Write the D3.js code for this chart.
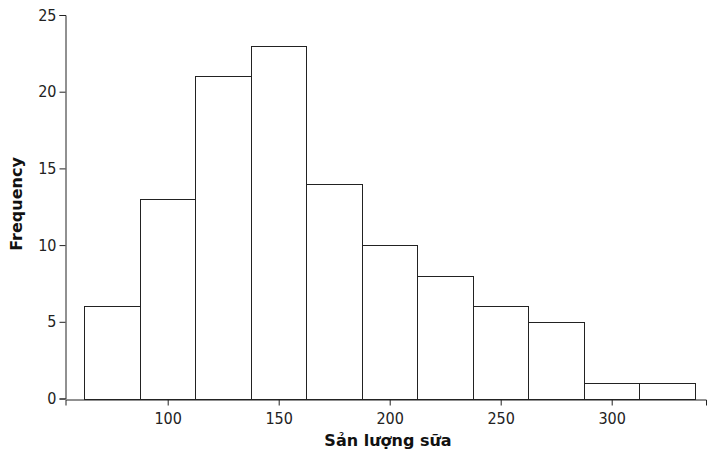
<!DOCTYPE html>
<html>
<head>
<meta charset="utf-8">
<script src="https://cdn.jsdelivr.net/npm/d3@7"></script>
<style>
  body { margin: 0; background: #fff; }
  svg { display: block; }
  .tick text { font-family: "DejaVu Sans Condensed", "DejaVu Sans", sans-serif; font-size: 16px; fill: #222; }
  .lbl { font-family: "DejaVu Sans", sans-serif; font-size: 16px; font-weight: bold; fill: #111; }
</style>
</head>
<body>
<script>
// histogram data
const binEdges = [62.5, 87.5, 112.5, 137.5, 162.5, 187.5, 212.5, 237.5, 262.5, 287.5, 312.5, 337.5]
const counts = [6, 13, 21, 23, 14, 10, 8, 6, 5, 1, 1]
const xTicks = [100, 150, 200, 250, 300]
const yTicks = [0, 5, 10, 15, 20, 25]

const W = 707, H = 454
const svg = d3.select('body').append('svg').attr('width', W).attr('height', H)

// x scale from tick positions, then stretch domain to axis line
let x = d3.scaleLinear().domain([100, 300]).range([167.7, 611.7])
x.domain([x.invert(65.5), x.invert(706)]).range([65.5, 706])

const y = d3.scaleLinear().domain([0, 25]).range([398.5, 15])

const bins = counts.map(function (c, i) {
    return { x0: binEdges[i], x1: binEdges[i + 1], n: c }
})

svg.append('g').selectAll('rect')
    .data(bins)
    .enter()
    .append('rect')
    .attr('x', d => Math.round(x(d.x0)) + 0.5)
    .attr('y', d => Math.round(y(d.n)) + 0.5)
    .attr('width', d => Math.round(x(d.x1)) - Math.round(x(d.x0)))
    .attr('height', d => Math.round(y(0)) - Math.round(y(d.n)))
    .style('fill', '#fff')
    .style('stroke', '#222')
    .attr('stroke-width', 1)

// axes
const xAxis = svg.append('g')
    .attr('transform', 'translate(0,' + (Math.round(y(0)) + 0.5) + ')')
    .call(d3.axisBottom(x).tickValues(xTicks).tickSizeOuter(0).tickSize(6).tickPadding(7))
xAxis.selectAll('path, line').attr('stroke', '#222')

const yAxis = svg.append('g')
    .attr('transform', 'translate(' + 65.5 + ',0)')
    .call(d3.axisLeft(y).tickValues(yTicks).tickSizeOuter(0).tickSize(6).tickPadding(3))
yAxis.selectAll('path, line').attr('stroke', '#222')
svg.selectAll('.tick text').attr('font-family', null).attr('font-size', null)

// labels
svg.append('text')
    .attr('class', 'lbl')
    .attr('x', 388)
    .attr('y', 446)
    .attr('text-anchor', 'middle')
    .text('Sản lượng sữa')

svg.append('text')
    .attr('class', 'lbl')
    .attr('transform', 'translate(22,204) rotate(-90)')
    .attr('text-anchor', 'middle')
    .text('Frequency')
</script>
</body>
</html>
